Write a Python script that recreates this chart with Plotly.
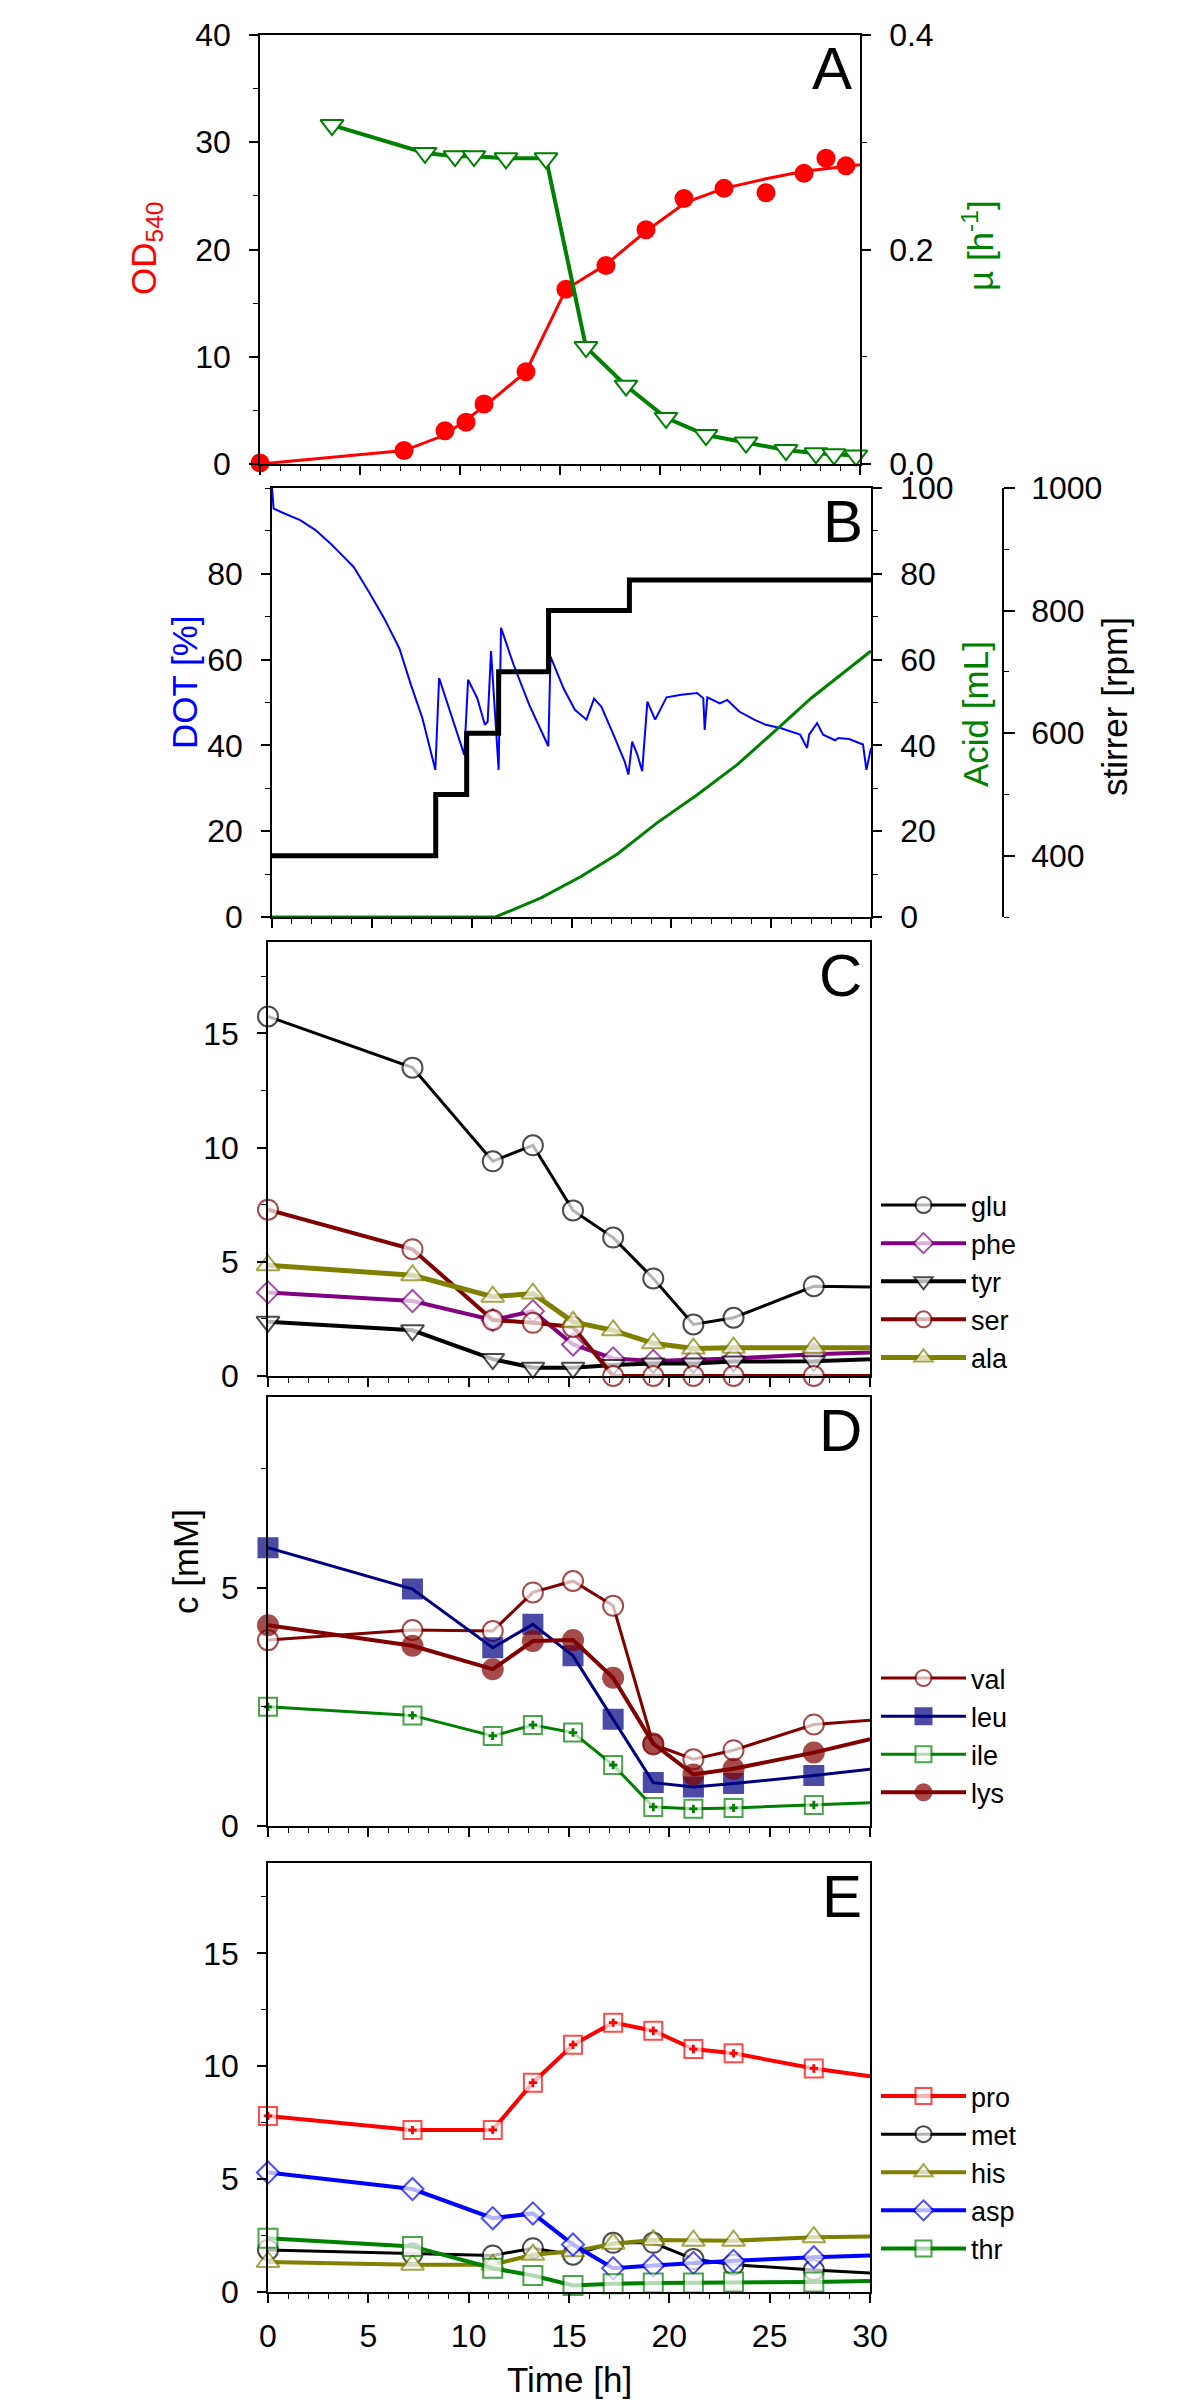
import plotly.graph_objects as go

W, H = 1200, 2404
FONT = "Liberation Sans, Arial, sans-serif"

# ---------------- panel A: biomass and growth rate ----------------
od_t = [0, 7.2, 9.25, 10.3, 11.2, 13.3, 15.3, 17.3, 19.3, 21.2, 23.2, 25.3, 27.2, 28.3, 29.3]
od = [0.1, 1.25, 3.1, 3.9, 5.6, 8.6, 16.3, 18.5, 21.85, 24.75, 25.7, 25.3, 27.1, 28.5, 27.8]
od_fit_t = [0, 7.2, 9.25, 11.2, 13.3, 15.3, 17.3, 19.3, 21.3, 23.2, 25.3, 27.2, 30]
od_fit = [0, 1.25, 2.7, 5.35, 8.6, 16.3, 18.6, 21.7, 24.4, 25.7, 26.6, 27.3, 27.9]
mu_t = [3.6, 8.25, 9.75, 10.7, 12.3, 14.3, 16.3, 18.3, 20.3, 22.3, 24.3, 26.3, 27.8, 28.7, 29.8]
mu = [0.316, 0.290, 0.287, 0.287, 0.285, 0.285, 0.109, 0.073, 0.043, 0.027, 0.020,
      0.013, 0.010, 0.009, 0.008]

# ---------------- panel B: online signals ----------------
dot_t = [0, 0.08, 0.65, 1.41, 2.18, 2.94, 3.52, 4.09, 4.85, 5.62, 6.38, 6.96, 7.53, 8.18,
         8.37, 8.87, 9.63, 9.82, 10.28, 10.66, 10.8, 10.97, 11.12, 11.35, 11.47, 12.1,
         12.88, 13.84, 13.95, 14.6, 15.17, 15.56, 15.75, 16.13, 16.5, 17.1, 17.66, 17.85,
         18.04, 18.3, 18.54, 18.8, 19.19, 19.76, 20.5, 21.29, 21.6, 21.67, 21.8, 22.43,
         22.8, 23.4, 24.15, 24.73, 25.5, 26.45, 26.8, 26.9, 27.3, 27.6, 28.2, 28.36, 28.9,
         29.6, 29.77, 30]
dot = [100, 95.2, 94, 92.5, 90.2, 87, 84.3, 81.6, 75.8, 69.6, 62.6, 54.1, 46.4, 34.3,
       55.7, 48.7, 37.8, 55.3, 51, 44.8, 45.5, 62, 52, 34.3, 67.4, 58.8,
       49.5, 39.8, 60.7, 53.3, 48.3, 46.7, 46, 50.9, 49, 42.5, 36.3, 33.2,
       40.9, 37.8, 34, 50.2, 46, 51.2, 51.8, 52.2, 51, 43.6, 51.2, 49.8,
       50.6, 47.9, 46, 44.8, 44, 42.5, 39.4, 42.5, 45.2, 42.5, 41.2, 41.7, 41.5,
       40.2, 34.3, 39.4]
acid_t = [0, 11.2, 13.5, 15.5, 17.3, 19.3, 21.3, 23.3, 25.1, 27.0, 30]
acid = [0, 0, 4.5, 9.5, 14.7, 22, 28.5, 35.5, 43, 51, 62]
stirrer_t = [0, 8.2, 9.75, 11.35, 13.85, 17.9, 30]
stirrer = [400, 500, 600, 700, 800, 850, 850]

# ---------------- panels C-E: amino acids [mM] ----------------
t_aa = [0, 7.2, 11.2, 13.2, 15.2, 17.2, 19.2, 21.2, 23.2, 27.2, 30]
glu = [15.74, 13.5, 9.4, 10.1, 7.25, 6.06, 4.27, 2.26, 2.55, 3.93, 3.9]
phe = [3.66, 3.28, 2.45, 2.84, 1.38, 0.77, 0.66, 0.7, 0.77, 0.95, 1.03]
tyr = [2.37, 2.0, 0.74, 0.36, 0.36, 0.48, 0.55, 0.55, 0.63, 0.65, 0.73]
ser = [7.28, 5.55, 2.45, 2.33, 2.15, 0, 0, 0, 0, 0, 0]
ala = [4.85, 4.41, 3.47, 3.61, 2.37, 2.0, 1.43, 1.2, 1.24, 1.24, 1.24]

val = [3.9, 4.11, 4.09, 4.9, 5.14, 4.62, 1.71, 1.4, 1.59, 2.13, 2.22]
leu = [5.84, 4.97, 3.74, 4.23, 3.57, 2.24, 0.91, 0.82, 0.89, 1.06, 1.19]
ile = [2.5, 2.32, 1.89, 2.12, 1.96, 1.28, 0.4, 0.36, 0.38, 0.44, 0.49]
lys = [4.21, 3.78, 3.29, 3.88, 3.9, 3.11, 1.73, 1.08, 1.2, 1.54, 1.82]

pro = [7.8, 7.17, 7.18, 9.27, 10.95, 11.93, 11.57, 10.76, 10.57, 9.9, 9.55]
met = [1.86, 1.7, 1.62, 1.94, 1.65, 2.18, 2.18, 1.46, 1.21, 0.97, 0.84]
his = [1.33, 1.21, 1.21, 1.65, 1.8, 2.14, 2.3, 2.27, 2.27, 2.43, 2.46]
asp = [5.29, 4.56, 3.27, 3.48, 2.1, 1.05, 1.17, 1.29, 1.38, 1.54, 1.62]
thr = [2.38, 2.02, 1.05, 0.73, 0.29, 0.37, 0.4, 0.4, 0.44, 0.44, 0.49]

# panel frames in pixels (left, right, top, bottom)
PANELS = {
    "A": (252, 852, 27, 456),
    "B": (264, 863, 480, 909),
    "C": (260, 862, 934, 1368),
    "D": (260, 862, 1389, 1818),
    "E": (260, 862, 1855, 2284),
}


def px(x):
    return x / W


def py(y):
    return 1 - y / H


def xdom(p):
    return [px(PANELS[p][0]), px(PANELS[p][1])]


def ydom(p):
    return [py(PANELS[p][3]), py(PANELS[p][2])]


fig = go.Figure()

# panel A
fig.add_trace(go.Scatter(x=od_fit_t, y=od_fit, mode="lines", line=dict(color="#FF0000", width=3),
                         xaxis="x", yaxis="y", showlegend=False))
fig.add_trace(go.Scatter(x=od_t, y=od, mode="markers", cliponaxis=False,
                         marker=dict(color="#FF0000", size=19, symbol="circle"),
                         xaxis="x", yaxis="y", showlegend=False))
fig.add_trace(go.Scatter(x=mu_t, y=mu, mode="lines+markers", cliponaxis=False,
                         line=dict(color="#008000", width=4),
                         marker=dict(symbol="triangle-down", size=20, color="white",
                                     line=dict(color="#008000", width=2)),
                         xaxis="x", yaxis="y2", showlegend=False))

# panel B
fig.add_trace(go.Scatter(x=stirrer_t, y=stirrer, mode="lines", line=dict(color="black", width=5, shape="hv"),
                         xaxis="x2", yaxis="y5", showlegend=False))
fig.add_trace(go.Scatter(x=acid_t, y=acid, mode="lines", line=dict(color="#008000", width=3),
                         xaxis="x2", yaxis="y4", showlegend=False))
fig.add_trace(go.Scatter(x=dot_t, y=dot, mode="lines", line=dict(color="#0000FF", width=2),
                         xaxis="x2", yaxis="y3", showlegend=False))


def aa(name, y, color, symbol, xa, ya, legend, fill="white", width=4, size=19, cross=False):
    sizes = [size] * (len(t_aa) - 1) + [0]
    fig.add_trace(go.Scatter(
        x=t_aa, y=y, name=name, mode="lines+markers", cliponaxis=False,
        line=dict(color=color, width=width),
        marker=dict(symbol=symbol, size=sizes, color=fill, line=dict(color=color, width=2)),
        xaxis=xa, yaxis=ya, legend=legend))
    if cross:
        fig.add_trace(go.Scatter(
            x=t_aa[:-1], y=y[:-1], mode="markers", cliponaxis=False, showlegend=False,
            marker=dict(symbol="cross", size=7, color=color, line=dict(width=0)),
            xaxis=xa, yaxis=ya))


# panel C
aa("glu", glu, "black", "circle", "x3", "y6", "legend", width=3, size=20)
aa("phe", phe, "#800080", "diamond", "x3", "y6", "legend", size=17)
aa("tyr", tyr, "black", "triangle-down", "x3", "y6", "legend", size=20)
aa("ser", ser, "#800000", "circle", "x3", "y6", "legend", size=20)
aa("ala", ala, "#808000", "triangle-up", "x3", "y6", "legend", width=5, size=20)

# panel D
aa("val", val, "#800000", "circle", "x4", "y7", "legend2", width=3, size=20)
aa("leu", leu, "#000080", "square", "x4", "y7", "legend2", fill="#000080", width=3, size=19)
aa("ile", ile, "#008000", "square", "x4", "y7", "legend2", width=3, size=18, cross=True)
aa("lys", lys, "#800000", "circle", "x4", "y7", "legend2", fill="#800000", width=4, size=20)

# panel E
aa("pro", pro, "#FF0000", "square", "x5", "y8", "legend3", size=18, cross=True)
aa("met", met, "black", "circle", "x5", "y8", "legend3", width=3, size=20)
aa("his", his, "#808000", "triangle-up", "x5", "y8", "legend3", size=20)
aa("asp", asp, "#0000FF", "diamond", "x5", "y8", "legend3", size=17)
aa("thr", thr, "#008000", "square", "x5", "y8", "legend3", size=19)

tickfont = dict(family=FONT, size=32, color="black")
LINE = dict(showline=True, linewidth=1.5, linecolor="black", showgrid=False, zeroline=False,
            automargin=False)


def xaxis(p, anchor, labels=False):
    return dict(domain=xdom(p), anchor=anchor, range=[0, 30], tick0=0, dtick=5, ticks="outside",
                ticklen=9, tickwidth=1.5, tickcolor="black", mirror=True, showticklabels=labels,
                tickfont=tickfont, ticklabelstandoff=6,
                minor=dict(dtick=1, ticks="outside", ticklen=5, tickwidth=1.2, tickcolor="black"),
                **LINE)


def yaxis(rng, dtick, minor, **kw):
    d = dict(range=rng, dtick=dtick, tick0=0, ticks="outside", ticklen=9, tickwidth=1.5,
             tickcolor="black", tickfont=tickfont, ticklabelstandoff=12,
             minor=dict(dtick=minor, ticks="outside", ticklen=5, tickwidth=1.2, tickcolor="black"),
             **LINE)
    d.update(kw)
    return d


legend_style = dict(font=dict(family=FONT, size=27, color="black"), bgcolor="rgba(0,0,0,0)",
                    xanchor="left", yanchor="top", tracegroupgap=0, itemclick=False,
                    itemwidth=85)

fig.update_layout(
    template="none",
    width=W, height=H, margin=dict(l=0, r=0, t=0, b=0, autoexpand=False),
    paper_bgcolor="white", plot_bgcolor="white",
    font=dict(family=FONT, color="black"),
    xaxis=xaxis("A", "y"), xaxis2=xaxis("B", "y3"), xaxis3=xaxis("C", "y6"),
    xaxis4=xaxis("D", "y7"), xaxis5=xaxis("E", "y8", labels=True),
    yaxis=yaxis([0, 40], 10, 5, domain=ydom("A"), anchor="x"),
    yaxis2=yaxis([0, 0.4], 0.2, 0.1, overlaying="y", side="right", anchor="x", tickformat=".1f"),
    yaxis3=yaxis([0, 100], 20, 10, domain=ydom("B"), anchor="x2", tickvals=[0, 20, 40, 60, 80]),
    yaxis4=yaxis([0, 100], 20, 10, overlaying="y3", side="right", anchor="x2"),
    yaxis5=yaxis([300, 1000], 200, 100, overlaying="y3", side="right", anchor="free",
                 position=px(995), tickvals=[400, 600, 800, 1000], ticklen=11, ticklabelstandoff=10),
    yaxis6=yaxis([0, 19], 5, 2.5, domain=ydom("C"), anchor="x3", mirror=True),
    yaxis7=yaxis([0, 9], 5, 2.5, domain=ydom("D"), anchor="x4", mirror=True),
    yaxis8=yaxis([0, 19], 5, 2.5, domain=ydom("E"), anchor="x5", mirror=True),
    legend=dict(x=px(868), y=py(1173), **legend_style),
    legend2=dict(x=px(868), y=py(1646), **legend_style),
    legend3=dict(x=px(868), y=py(2064), **legend_style),
)

# panel letters
for p, (l, r, t, b) in PANELS.items():
    fig.add_annotation(text=p, x=px(r - 6), y=py(t - 2), xref="paper", yref="paper",
                       xanchor="right", yanchor="top", showarrow=False,
                       font=dict(family=FONT, size=60, color="black"))

# axis titles
titles = [
    ("OD<sub>540</sub>", 138, 241, "#FF0000", -90),
    ("\u00b5 [h<sup>-1</sup>]", 970, 238, "#008000", -90),
    ("DOT [%]", 177, 674, "#0000FF", -90),
    ("Acid [mL]", 968, 706, "#008000", -90),
    ("stirrer [rpm]", 1107, 699, "black", -90),
    ("c [mM]", 177, 1554, "black", -90),
    ("Time [h]", 561, 2371, "black", 0),
]
for text, x, y, color, ang in titles:
    fig.add_annotation(text=text, x=px(x), y=py(y), xref="paper", yref="paper",
                       xanchor="center", yanchor="middle", showarrow=False, textangle=ang,
                       font=dict(family=FONT, size=35, color=color))

fig.write_html("out.html")
